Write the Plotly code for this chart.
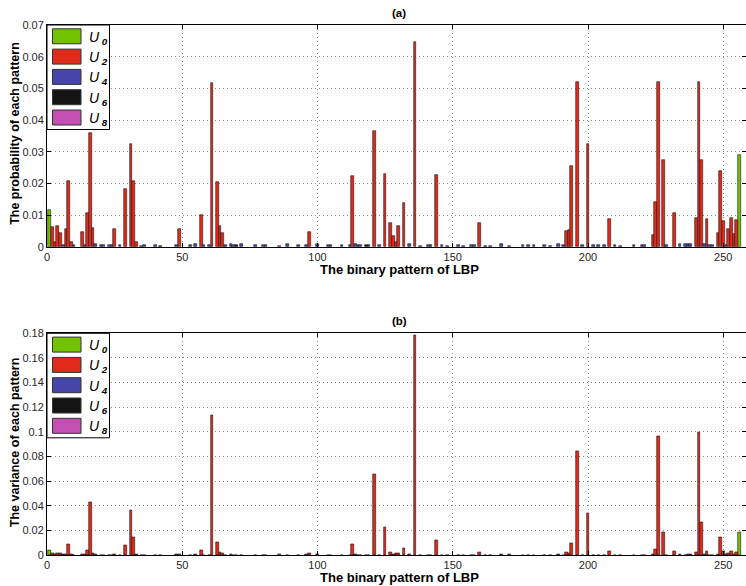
import plotly.graph_objects as go

# ---------------- data ----------------
# uniform U0 patterns
u0_patterns = [0, 255]
u0_prob = [0.0116, 0.0288]
u0_var = [0.0038, 0.0184]

# uniform U2 patterns
u2_patterns = [1, 2, 3, 4, 6, 7, 8, 12, 14, 15, 16, 24, 28, 30, 31, 32, 48, 56, 60, 62,
               63, 64, 96, 112, 120, 124, 126, 127, 128, 129, 131, 135, 143, 159, 191, 192,
               193, 195, 199, 207, 223, 224, 225, 227, 231, 239, 240, 241, 243, 247, 248,
               249, 251, 252, 253, 254]
u2_prob = [0.0061, 0.0016, 0.0064, 0.0043, 0.0055, 0.0209, 0.0014, 0.0048, 0.0105, 0.0360,
           0.0058, 0.0055, 0.0183, 0.0323, 0.0209, 0.0014, 0.0055, 0.0101, 0.0517, 0.0203,
           0.0066, 0.0042, 0.0048, 0.0223, 0.0365, 0.0230, 0.0076, 0.0034, 0.0016, 0.0065,
           0.0138, 0.0645, 0.0226, 0.0075, 0.0050, 0.0053, 0.0255, 0.0521, 0.0325, 0.0089,
           0.0038, 0.0142, 0.0519, 0.0274, 0.0106, 0.0092, 0.0521, 0.0273, 0.0086, 0.0044,
           0.0239, 0.0081, 0.0057, 0.0090, 0.0040, 0.0084]
u2_var = [0.0015, 0.0003, 0.0010, 0.0010, 0.0008, 0.0089, 0.0003, 0.0008, 0.0040, 0.0425,
          0.0010, 0.0008, 0.0076, 0.0360, 0.0141, 0.0003, 0.0008, 0.0040, 0.1137, 0.0100,
          0.0022, 0.0016, 0.0012, 0.0084, 0.0658, 0.0225, 0.0022, 0.0008, 0.0010, 0.0016,
          0.0057, 0.1780, 0.0119, 0.0022, 0.0019, 0.0010, 0.0095, 0.0839, 0.0341, 0.0027,
          0.0008, 0.0043, 0.0961, 0.0184, 0.0032, 0.0022, 0.0999, 0.0268, 0.0027, 0.0008,
          0.0143, 0.0030, 0.0016, 0.0027, 0.0008, 0.0022]

# non-uniform patterns (U4 / U6 / U8) with visible small bars
nu_patterns = [5, 9, 13, 17, 19, 20, 22, 23, 26, 34, 35, 39, 41, 47, 52, 54, 57, 59, 65, 67,
               68, 69, 71, 76, 79, 80, 85, 88, 92, 95, 99, 103, 104, 108, 111, 113, 114, 115,
               117, 118, 122, 133, 137, 140, 141, 145, 147, 151, 153, 156, 157, 161, 163,
               167, 170, 175, 177, 179, 183, 185, 188, 190, 197, 201, 203, 205, 209, 211,
               216, 219, 220, 228, 233, 235, 236, 237, 242, 244, 245, 250]
nu_prob = [0.0006, 0.0004, 0.0006, 0.0009, 0.0005, 0.0005, 0.0005, 0.0005, 0.0004, 0.0003,
           0.0004, 0.0004, 0.0003, 0.0006, 0.0005, 0.0007, 0.0006, 0.0004, 0.0005, 0.0007,
           0.0006, 0.0006, 0.0007, 0.0004, 0.0005, 0.0005, 0.0002, 0.0008, 0.0006, 0.0005,
           0.0009, 0.0006, 0.0005, 0.0004, 0.0005, 0.0007, 0.0006, 0.0005, 0.0005, 0.0005,
           0.0005, 0.0007, 0.0003, 0.0005, 0.0005, 0.0004, 0.0003, 0.0004, 0.0003, 0.0006,
           0.0006, 0.0003, 0.0003, 0.0008, 0.0002, 0.0006, 0.0004, 0.0004, 0.0004, 0.0003,
           0.0007, 0.0005, 0.0004, 0.0005, 0.0004, 0.0005, 0.0004, 0.0003, 0.0004, 0.0005,
           0.0005, 0.0005, 0.0008, 0.0007, 0.0009, 0.0010, 0.0008, 0.0005, 0.0005, 0.0006]
nu_var = [0.0002, 0.0000, 0.0002, 0.0003, 0.0000, 0.0000, 0.0001, 0.0001, 0.0000, 0.0000,
          0.0000, 0.0000, 0.0000, 0.0002, 0.0000, 0.0002, 0.0001, 0.0000, 0.0000, 0.0002,
          0.0000, 0.0000, 0.0001, 0.0000, 0.0000, 0.0000, 0.0003, 0.0001, 0.0000, 0.0008,
          0.0003, 0.0000, 0.0000, 0.0000, 0.0000, 0.0002, 0.0000, 0.0000, 0.0000, 0.0000,
          0.0000, 0.0002, 0.0000, 0.0000, 0.0000, 0.0000, 0.0000, 0.0000, 0.0000, 0.0000,
          0.0000, 0.0000, 0.0000, 0.0002, 0.0003, 0.0000, 0.0000, 0.0000, 0.0000, 0.0000,
          0.0002, 0.0000, 0.0000, 0.0000, 0.0000, 0.0000, 0.0000, 0.0000, 0.0000, 0.0000,
          0.0000, 0.0000, 0.0002, 0.0001, 0.0003, 0.0003, 0.0002, 0.0000, 0.0000, 0.0008]

class_names = ["U0", "U2", "U4", "U6", "U8"]
class_labels = ["0", "2", "4", "6", "8"]
class_colors = ["#72c200", "#e02a1a", "#4646aa", "#141414", "#c34fb2"]

x_ticks = [0, 50, 100, 150, 200, 250]
titles = ["(a)", "(b)"]
y_titles = ["The probability of each pattern", "The variance of each pattern"]
x_title = "The binary pattern of LBP"


def transitions(p):
    bits = [(p >> i) & 1 for i in range(8)]
    return sum(bits[i] != bits[(i + 1) % 8] for i in range(8))


def split_classes(patterns_list, values_list):
    out = {c: ([], []) for c in class_names}
    for p, v in zip(patterns_list, values_list):
        c = "U%d" % transitions(p)
        out[c][0].append(p + 1)  # 1-based bin index
        out[c][1].append(v)
    return out


prob_sets = split_classes(u0_patterns + u2_patterns + nu_patterns, u0_prob + u2_prob + nu_prob)
var_sets = split_classes(u0_patterns + u2_patterns + nu_patterns, u0_var + u2_var + nu_var)

# ---------------- figure ----------------
W, H = 746, 586
L, R, T, B = 47, 0, 25, 31
PW, PH = W - L - R, H - T - B
top_a, bot_a = 25.0, 246.7
top_b, bot_b = 333.3, 555.0


def py2paper(py):
    return min(1.0, max(0.0, (H - B - py) / PH))


def py2paper_free(py):
    return (H - B - py) / PH


def px2paper(px):
    return (px - L) / PW


fig = go.Figure()
for ax_i, sets in enumerate([prob_sets, var_sets]):
    xa = "x" if ax_i == 0 else "x2"
    ya = "y" if ax_i == 0 else "y2"
    for c, col in zip(class_names, class_colors):
        xs, ys = sets[c]
        if not xs:
            continue
        fig.add_trace(go.Bar(
            x=xs, y=ys, xaxis=xa, yaxis=ya, width=1.0, name=c,
            marker=dict(color=col, line=dict(color="#1a1a1a", width=0.6)),
            showlegend=False,
        ))

axis_common = dict(
    showline=True, linecolor="#000", linewidth=1, mirror="ticks",
    ticks="inside", ticklen=4, tickcolor="#000",
    showgrid=True, gridcolor="#8a8a8a", griddash="1px,3px", gridwidth=1,
    zeroline=False, tickfont=dict(size=11, color="#262626"),
)

fig.update_layout(
    width=W, height=H,
    margin=dict(l=L, r=R, t=T, b=B),
    paper_bgcolor="white", plot_bgcolor="white",
    font=dict(family="Liberation Sans, Arial, sans-serif", color="#000"),
    barmode="overlay", bargap=0,
    xaxis=dict(domain=[0, 1], range=[0, 258.4], tickvals=x_ticks, anchor="y", **axis_common),
    yaxis=dict(domain=[py2paper(bot_a), py2paper(top_a)], range=[0, 0.07], dtick=0.01,
               anchor="x", **axis_common),
    xaxis2=dict(domain=[0, 1], range=[0, 258.4], tickvals=x_ticks, anchor="y2", **axis_common),
    yaxis2=dict(domain=[py2paper(bot_b), py2paper(top_b)], range=[0, 0.18], dtick=0.02,
                anchor="x2", **axis_common),
)

annotations = []
# titles and axis titles
for title, ytitle, top, bot in [(titles[0], y_titles[0], top_a, bot_a), (titles[1], y_titles[1], top_b, bot_b)]:
    annotations.append(dict(text="<b>%s</b>" % title, x=px2paper(399), y=py2paper_free(top - 12),
                            xref="paper", yref="paper", showarrow=False, xanchor="center",
                            yanchor="middle", font=dict(size=11.5)))
    annotations.append(dict(text="<b>%s</b>" % ytitle, x=px2paper(15), y=py2paper_free((top + bot) / 2 - 2),
                            xref="paper", yref="paper", showarrow=False, textangle=-90,
                            xanchor="center", yanchor="middle", font=dict(size=12.5)))
    annotations.append(dict(text="<b>%s</b>" % x_title, x=px2paper(400), y=py2paper_free(bot + 22.5),
                            xref="paper", yref="paper", showarrow=False, xanchor="center",
                            yanchor="middle", font=dict(size=13)))

# legends
shapes = []
for top in [top_a, top_b]:
    shapes.append(dict(type="rect", xref="paper", yref="paper",
                       x0=px2paper(47), x1=px2paper(109.5), y0=py2paper_free(top + 104.5),
                       y1=py2paper_free(top),
                       line=dict(color="#000", width=1), fillcolor="white", layer="above"))
    for i, (lab, col) in enumerate(zip(class_labels, class_colors)):
        cy = top + 11.3 + i * 20.3
        shapes.append(dict(type="rect", xref="paper", yref="paper",
                           x0=px2paper(52.5), x1=px2paper(81), y0=py2paper_free(cy + 7.5),
                           y1=py2paper_free(cy - 7.5),
                           line=dict(color="#333", width=1), fillcolor=col, layer="above"))
        annotations.append(dict(text="<i>U</i><sub><b><i> %s</i></b></sub>" % lab,
                                x=px2paper(87), y=py2paper_free(cy + 1.5), xref="paper", yref="paper",
                                showarrow=False, xanchor="left", yanchor="middle",
                                font=dict(size=14, color="#000")))

fig.update_layout(annotations=annotations, shapes=shapes)
fig.write_html("out.html", config={"displayModeBar": False},
               post_script="document.body.style.margin='0px';document.body.style.overflow='hidden';")
